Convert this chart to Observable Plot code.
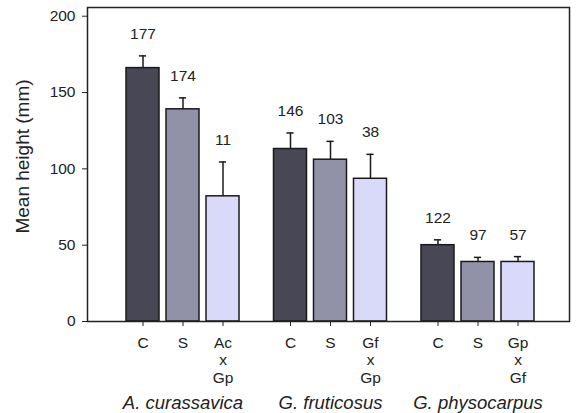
<!DOCTYPE html>
<html>
<head>
<meta charset="utf-8">
<script src="https://cdn.jsdelivr.net/npm/d3@7"></script>
<script src="https://cdn.jsdelivr.net/npm/@observablehq/plot@0.6"></script>
<style>
  body { margin: 0; background: #fff; }
  svg { font-family: "Liberation Sans", Arial, sans-serif; }
</style>
</head>
<body>
<div id="chart"></div>
<script>
const species = ["A. curassavica", "G. fruticosus", "G. physocarpus"];
const treatments = ["C", "S", "H"];
const treatmentLabels = [
  ["C", "S", "Ac\nx\nGp"],
  ["C", "S", "Gf\nx\nGp"],
  ["C", "S", "Gp\nx\nGf"]
];
const means = [
  [166, 139, 82],
  [113, 106, 93.5],
  [50, 39, 39]
];
const errors = [
  [8, 7.5, 22.5],
  [10.5, 12, 16],
  [3.5, 3, 3.5]
];
const counts = [
  [177, 174, 11],
  [146, 103, 38],
  [122, 97, 57]
];
const yTicks = [0, 50, 100, 150, 200];
const colors = ["#474756", "#9191a8", "#d9d9f9"];

// layout: bar slots (1 unit per bar within a group), groups separated by groupStep units
const groupStep = 3.6875;
const barHalf = 0.4125;
const capHalf = 0.09;

const data = [];
species.forEach((sp, g) => treatments.forEach((t, i) => data.push({
  species: sp, treatment: t, label: treatmentLabels[g][i],
  pos: g * groupStep + i,
  mean: means[g][i], top: means[g][i] + errors[g][i], n: String(counts[g][i])
})));
const groups = species.map((sp, g) => ({ species: sp, pos: g * groupStep + 1 }));

const chart = Plot.plot({
  width: 576,
  height: 413,
  marginLeft: 87,
  marginRight: 7,
  marginTop: 7,
  marginBottom: 92,
  style: { fontFamily: "Liberation Sans, Arial, sans-serif", fontSize: "15px", color: "#222" },
  x: { domain: [-1.3875, 10.6625], label: null },
  y: { domain: [0, 205.7], label: null },
  color: { domain: treatments, range: colors },
  marks: [
    Plot.ruleX(data, { x: "pos", y1: "mean", y2: "top", stroke: "#1a1a1a", strokeWidth: 1.5 }),
    Plot.ruleY(data, { x1: d => d.pos - capHalf, x2: d => d.pos + capHalf, y: "top", stroke: "#1a1a1a", strokeWidth: 1.5 }),
    Plot.rect(data, { x1: d => d.pos - barHalf, x2: d => d.pos + barHalf, y1: 0, y2: "mean", fill: "treatment", stroke: "#1a1a1a", strokeWidth: 1.5 }),
    Plot.text(data, { x: "pos", y: "top", text: "n", dy: -22, fontSize: 15.5, fill: "#222" }),
    Plot.axisY({ ticks: yTicks, tickSize: 5, tickPadding: 7, fontSize: 15.5, label: null }),
    Plot.axisX(data.map(d => d.pos), { tickSize: 5, text: null, label: null }),
    Plot.text(data, { x: "pos", text: "label", frameAnchor: "bottom", lineAnchor: "top", dy: 14, lineHeight: 1.13, fontSize: 15.5, fill: "#222" }),
    Plot.text(groups, { x: "pos", text: "species", frameAnchor: "bottom", lineAnchor: "top", dy: 74, fontSize: 18.5, fontStyle: "italic", fill: "#222" }),
    Plot.text(["Mean height (mm)"], { frameAnchor: "left", textAnchor: "middle", rotate: -90, dx: -65, dy: -8, fontSize: 19, fill: "#222" }),
    Plot.frame({ stroke: "#222", strokeWidth: 1.5 })
  ]
});
document.getElementById("chart").appendChild(chart);
</script>
</body>
</html>
